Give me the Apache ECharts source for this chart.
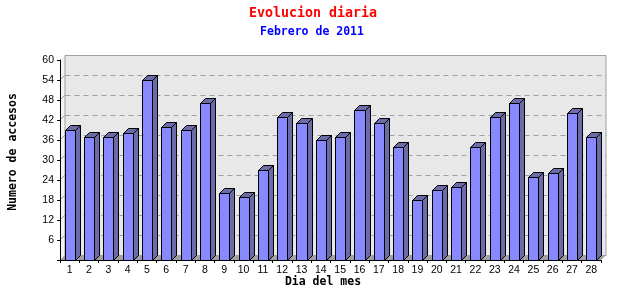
<!DOCTYPE html>
<html>
<head>
<meta charset="utf-8">
<script src="https://cdn.jsdelivr.net/npm/echarts@6/dist/echarts.min.js"></script>
<style>html,body{margin:0;padding:0;background:#fff}#c{width:640px;height:300px}</style>
</head>
<body>
<div id="c"></div>
<script>
const days = ['1','2','3','4','5','6','7','8','9','10','11','12','13','14','15','16','17','18','19','20','21','22','23','24','25','26','27','28'];
const visits = [39,37,37,38,54,40,39,47,20,19,27,43,41,36,37,45,41,34,18,21,22,34,43,47,25,26,44,37];
const yMax = 60;
const yStep = 6;
const yGridValues = [6,12,18,24,30,36,42,48,54];

const D = 5;
const px = v => Math.round(v) + 0.5;
const chart = echarts.init(document.getElementById('c'));

function renderWalls(params, api) {
  const cs = params.coordSys;
  const x0 = cs.x, y0 = cs.y, x1 = cs.x + cs.width, y1 = cs.y + cs.height;
  const ch = [];
  ch.push({type:'polygon', shape:{points:[[x0,y0],[x0+D,y0-D],[x0+D,y1-D],[x0,y1]]}, style:{fill:'#f2f2f2', stroke:null}});
  ch.push({type:'rect', shape:{x:px(x0+D)-0.5, y:px(y0-D), width:Math.round(x1-x0), height:Math.round(y1-y0)}, style:{fill:'#e8e8e8', stroke:'#a0a0a0', lineWidth:1}});
  ch.push({type:'polygon', shape:{points:[[x0,y1],[x0+D,y1-D],[x1+D,y1-D],[x1,y1]]}, style:{fill:'#a0a0a0', stroke:null}});
  yGridValues.forEach(v => {
    const y = api.coord([0, v])[1];
    ch.push({type:'line', shape:{x1:px(x0+D), y1:px(y-D), x2:px(x1+D), y2:px(y-D)}, style:{stroke:'#a0a0a0', lineWidth:1, lineDash:[5,4]}});
    ch.push({type:'line', shape:{x1:x0, y1:y, x2:x0+D, y2:y-D}, style:{stroke:'#a0a0a0', lineWidth:1}});
  });
  return {type:'group', children:ch};
}

function renderBar(params, api) {
  const idx = api.value(0), val = api.value(1);
  const top = api.coord([idx, val]);
  const base = api.coord([idx, 0]);
  const w = api.size([1, 0])[0] * 0.52;
  const l = px(top[0] - w / 2), r = px(top[0] + w / 2);
  const t = px(top[1]), b = px(base[1]);
  const st = {stroke:'#000', lineWidth:1};
  return {type:'group', children:[
    {type:'polygon', shape:{points:[[r,t],[r+D,t-D],[r+D,b-D],[r,b]]}, style:Object.assign({fill:'#6b6ba8'}, st)},
    {type:'polygon', shape:{points:[[l,t],[l+D,t-D],[r+D,t-D],[r,t]]}, style:Object.assign({fill:'#6b6ba8'}, st)},
    {type:'rect', shape:{x:l, y:t, width:r-l, height:b-t}, style:Object.assign({fill:'#8888ff'}, st)}
  ]};
}

chart.setOption({
  animation: false,
  backgroundColor: '#fff',
  grid: {left:60, right:39, top:60, bottom:40},
  graphic: [
    {type:'text', x:313, y:14, style:{text:'Evolucion diaria', fill:'#ff0000', font:'bold 13.3px "DejaVu Sans Mono"', align:'center', verticalAlign:'middle'}, z:10},
    {type:'text', x:312, y:32, style:{text:'Febrero de 2011', fill:'#0000ff', font:'bold 11.5px "DejaVu Sans Mono"', align:'center', verticalAlign:'middle'}, z:10},
    {type:'text', x:323, y:282, style:{text:'Dia del mes', fill:'#000', font:'bold 11.5px "DejaVu Sans Mono"', align:'center', verticalAlign:'middle'}, z:10},
    {type:'text', x:13, y:152, rotation:Math.PI/2, style:{text:'Numero de accesos', fill:'#000', font:'bold 11.5px "DejaVu Sans Mono"', align:'center', verticalAlign:'middle'}, z:10}
  ],
  xAxis: {
    type:'category', data:days, boundaryGap:true, z:10,
    axisLine:{lineStyle:{color:'#000', width:1}},
    axisTick:{show:true, interval:0, length:3, lineStyle:{color:'#000'}},
    axisLabel:{interval:0, color:'#000', fontFamily:'Liberation Sans', fontSize:10.5, margin:5},
    splitLine:{show:false}
  },
  yAxis: {
    type:'value', min:0, max:yMax, interval:yStep, z:10,
    axisLine:{show:true, lineStyle:{color:'#000', width:1}},
    axisTick:{show:true, length:3, lineStyle:{color:'#000'}},
    axisLabel:{color:'#000', fontFamily:'Liberation Sans', fontSize:10.5, margin:6, padding:[4,0,0,0], formatter: v => v === 0 ? '' : String(v)},
    splitLine:{show:false}
  },
  series: [
    {type:'custom', renderItem:renderWalls, data:[[0,0]], silent:true, z:1, clip:false},
    {type:'custom', renderItem:renderBar, data:visits.map((v,i)=>[i,v]), z:2, clip:false}
  ]
});
</script>
</body>
</html>
